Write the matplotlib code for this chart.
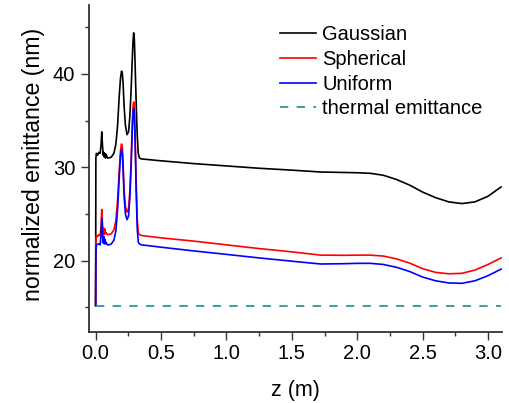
import matplotlib
matplotlib.use("Agg")
import matplotlib.pyplot as plt
from matplotlib.ticker import MultipleLocator

plt.rcParams['font.family'] = ['Liberation Sans', 'DejaVu Sans']

# ---- data ----
z_early = [0.0, 0.002, 0.006, 0.015, 0.025, 0.035, 0.042, 0.047, 0.052, 0.058,
           0.062, 0.066, 0.070, 0.075, 0.080, 0.090, 0.100, 0.120, 0.140, 0.155,
           0.168, 0.180, 0.190, 0.198, 0.204, 0.210, 0.218, 0.228, 0.240, 0.252,
           0.262, 0.272, 0.280, 0.286, 0.291, 0.296, 0.302, 0.310, 0.318, 0.326,
           0.335, 0.350]
z_late = [0.50, 0.75, 1.00, 1.25, 1.50, 1.72, 1.90, 2.00, 2.10, 2.20, 2.30, 2.40,
          2.50, 2.60, 2.70, 2.80, 2.90, 3.00, 3.10]

gauss_early = [15.2, 31.0, 31.5, 31.3, 31.6, 31.5, 32.5, 33.8, 32.5, 31.3,
               31.6, 31.1, 31.5, 31.0, 31.4, 31.0, 31.0, 31.1, 31.5, 32.5,
               34.5, 37.5, 39.5, 40.3, 40.1, 39.0, 36.5, 34.5, 33.5, 33.8,
               35.5, 38.5, 41.5, 43.5, 44.4, 43.8, 41.0, 37.0, 33.5, 31.5,
               31.0, 30.9]
gauss_late = [30.7, 30.4, 30.15, 29.9, 29.7, 29.5, 29.45, 29.42, 29.36, 29.15, 28.7, 28.1,
              27.35, 26.75, 26.3, 26.12, 26.3, 26.9, 27.9]

spher_early = [15.2, 22.0, 22.7, 22.6, 22.8, 22.7, 23.8, 25.5, 24.0, 22.9,
               23.5, 22.8, 23.4, 22.9, 23.0, 22.8, 22.8, 22.9, 23.3, 24.3,
               26.5, 29.5, 31.8, 32.5, 32.2, 30.5, 27.5, 25.8, 25.2, 25.6,
               27.5, 31.0, 34.5, 36.5, 37.0, 36.5, 33.5, 28.5, 24.5, 23.0,
               22.8, 22.7]
spher_late = [22.45, 22.1, 21.7, 21.3, 20.95, 20.6, 20.58, 20.6, 20.6, 20.5, 20.2, 19.75,
              19.15, 18.75, 18.6, 18.65, 19.0, 19.6, 20.3]

unif_early = [15.2, 21.0, 21.7, 21.75, 21.8, 21.7, 22.8, 24.5, 23.0, 21.9,
              22.6, 21.8, 22.3, 21.8, 22.0, 21.7, 21.7, 21.8, 22.2, 23.2,
              25.5, 28.8, 31.2, 31.9, 31.6, 29.8, 26.8, 25.0, 24.4, 24.8,
              26.8, 30.3, 33.8, 35.8, 36.3, 35.8, 32.8, 27.5, 23.5, 22.0,
              21.8, 21.7]
unif_late = [21.45, 21.05, 20.68, 20.3, 19.95, 19.65, 19.68, 19.72, 19.72, 19.6, 19.3, 18.85,
             18.25, 17.85, 17.62, 17.58, 17.85, 18.4, 19.1]

z_thermal = [0.0, 3.1]
thermal = [15.15, 15.15]

labels = ["Gaussian", "Spherical", "Uniform", "thermal emittance"]
xtick_vals = [0, 0.5, 1.0, 1.5, 2.0, 2.5, 3.0]
xtick_labels = ["0.0", "0.5", "1.0", "1.5", "2.0", "2.5", "3.0"]

z_all = z_early + z_late
gauss = gauss_early + gauss_late
spher = spher_early + spher_late
unif = unif_early + unif_late

# ---- plot ----
fig = plt.figure(figsize=(5.09, 4.03), dpi=100)
ax = fig.add_axes([0.175, 0.176, 0.811, 0.812])

ax.plot(z_all, gauss, color='black', lw=1.2, label=labels[0])
ax.plot(z_all, spher, color='#ff0000', lw=1.2, label=labels[1])
ax.plot(z_all, unif, color='#0000ff', lw=1.2, label=labels[2])
ax.plot(z_thermal, thermal, color='#1a8f8f', lw=1.2, linestyle=(0, (5, 5)), label=labels[3])

ax.set_xlim(-0.05, 3.106)
ax.set_ylim(12.36, 47.4)

ax.xaxis.set_minor_locator(MultipleLocator(0.25))
ax.yaxis.set_major_locator(MultipleLocator(10))
ax.yaxis.set_minor_locator(MultipleLocator(5))
ax.set_xticks(xtick_vals)
ax.set_xticklabels(xtick_labels)

for s in ['top', 'right']:
    ax.spines[s].set_visible(False)
for s in ['left', 'bottom']:
    ax.spines[s].set_color('#333333')
    ax.spines[s].set_linewidth(1.3)

ax.tick_params(which='major', direction='out', length=5.5, width=1.0, color='#333333',
               labelsize=14.5)
ax.tick_params(axis='x', which='major', pad=3)
ax.tick_params(axis='y', which='major', pad=4.5)
ax.tick_params(which='minor', direction='out', length=3, width=1.0, color='#333333')

ax.set_xlabel("z (m)", fontsize=15.5, labelpad=12)
ax.set_ylabel("normalized emittance (nm)", fontsize=16.7)
ax.yaxis.set_label_coords(-0.107, 0.511)

leg = ax.legend(loc='upper left', bbox_to_anchor=(0.550, 0.937),
                bbox_transform=fig.transFigure, frameon=False, fontsize=14.5,
                handlelength=1.8, handletextpad=0.3, labelspacing=0.28,
                borderpad=0, borderaxespad=0)

fig.savefig("out.png", dpi=100)
